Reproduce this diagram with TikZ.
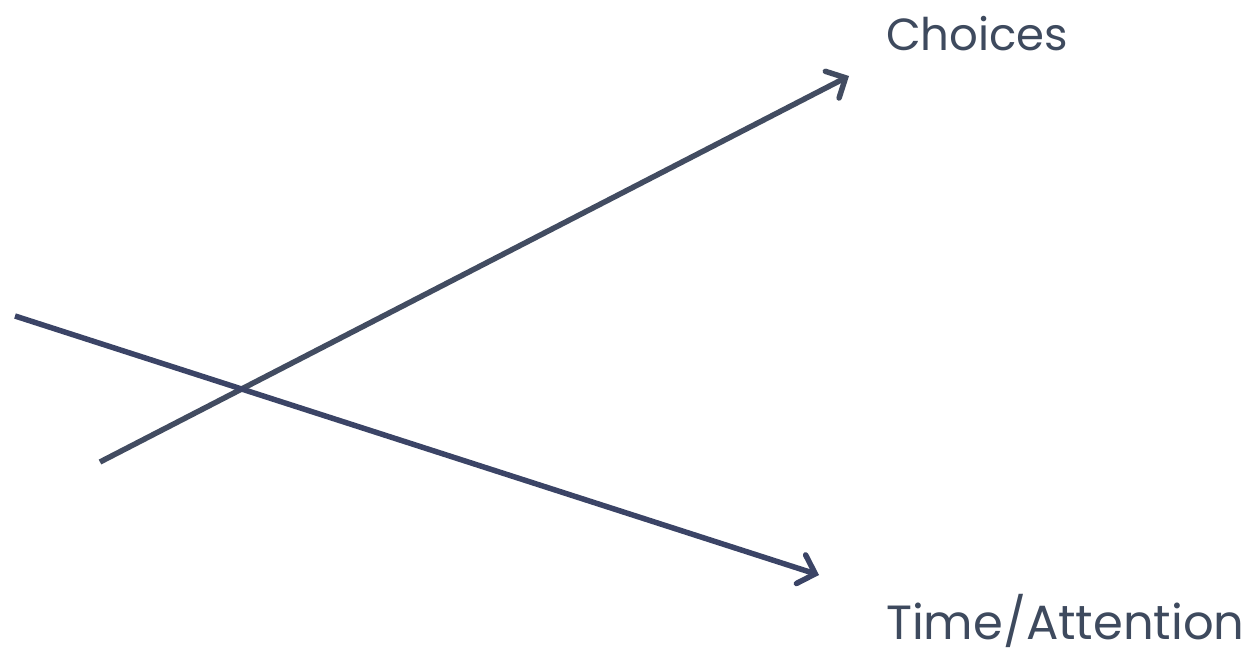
\documentclass[tikz,border=0pt]{standalone}
\usepackage{fontspec}
\setmainfont{Poppins}
\usetikzlibrary{arrows.meta}
\definecolor{slate}{HTML}{424C61}
\definecolor{navy}{HTML}{3B4466}
\definecolor{txt}{HTML}{3E4A5E}
\tikzset{
  axisline/.style={line width=5.5pt, -{Straight Barb[length=15pt,width=30pt,line width=5.5pt,line cap=round]}},
  lbl/.style={anchor=west, inner sep=0pt, text=txt}
}
\begin{document}
\begin{tikzpicture}[x=1pt,y=-1pt]
\useasboundingbox (0,0) rectangle (1247,655);
\coordinate (c0) at (100,462);
\coordinate (c1) at (849,76);
\coordinate (t0) at (15,316);
\coordinate (t1) at (819,575);
\draw[axisline, slate] (c0) -- (c1);
\draw[axisline, navy] (t0) -- (t1);
\node[lbl, font=\fontsize{45}{48}\selectfont] (choices) at (886,34) {Choices};
\node[lbl, font=\fontsize{48}{52}\selectfont] (time) at (886,621) {Time/Attention};
\end{tikzpicture}
\end{document}
